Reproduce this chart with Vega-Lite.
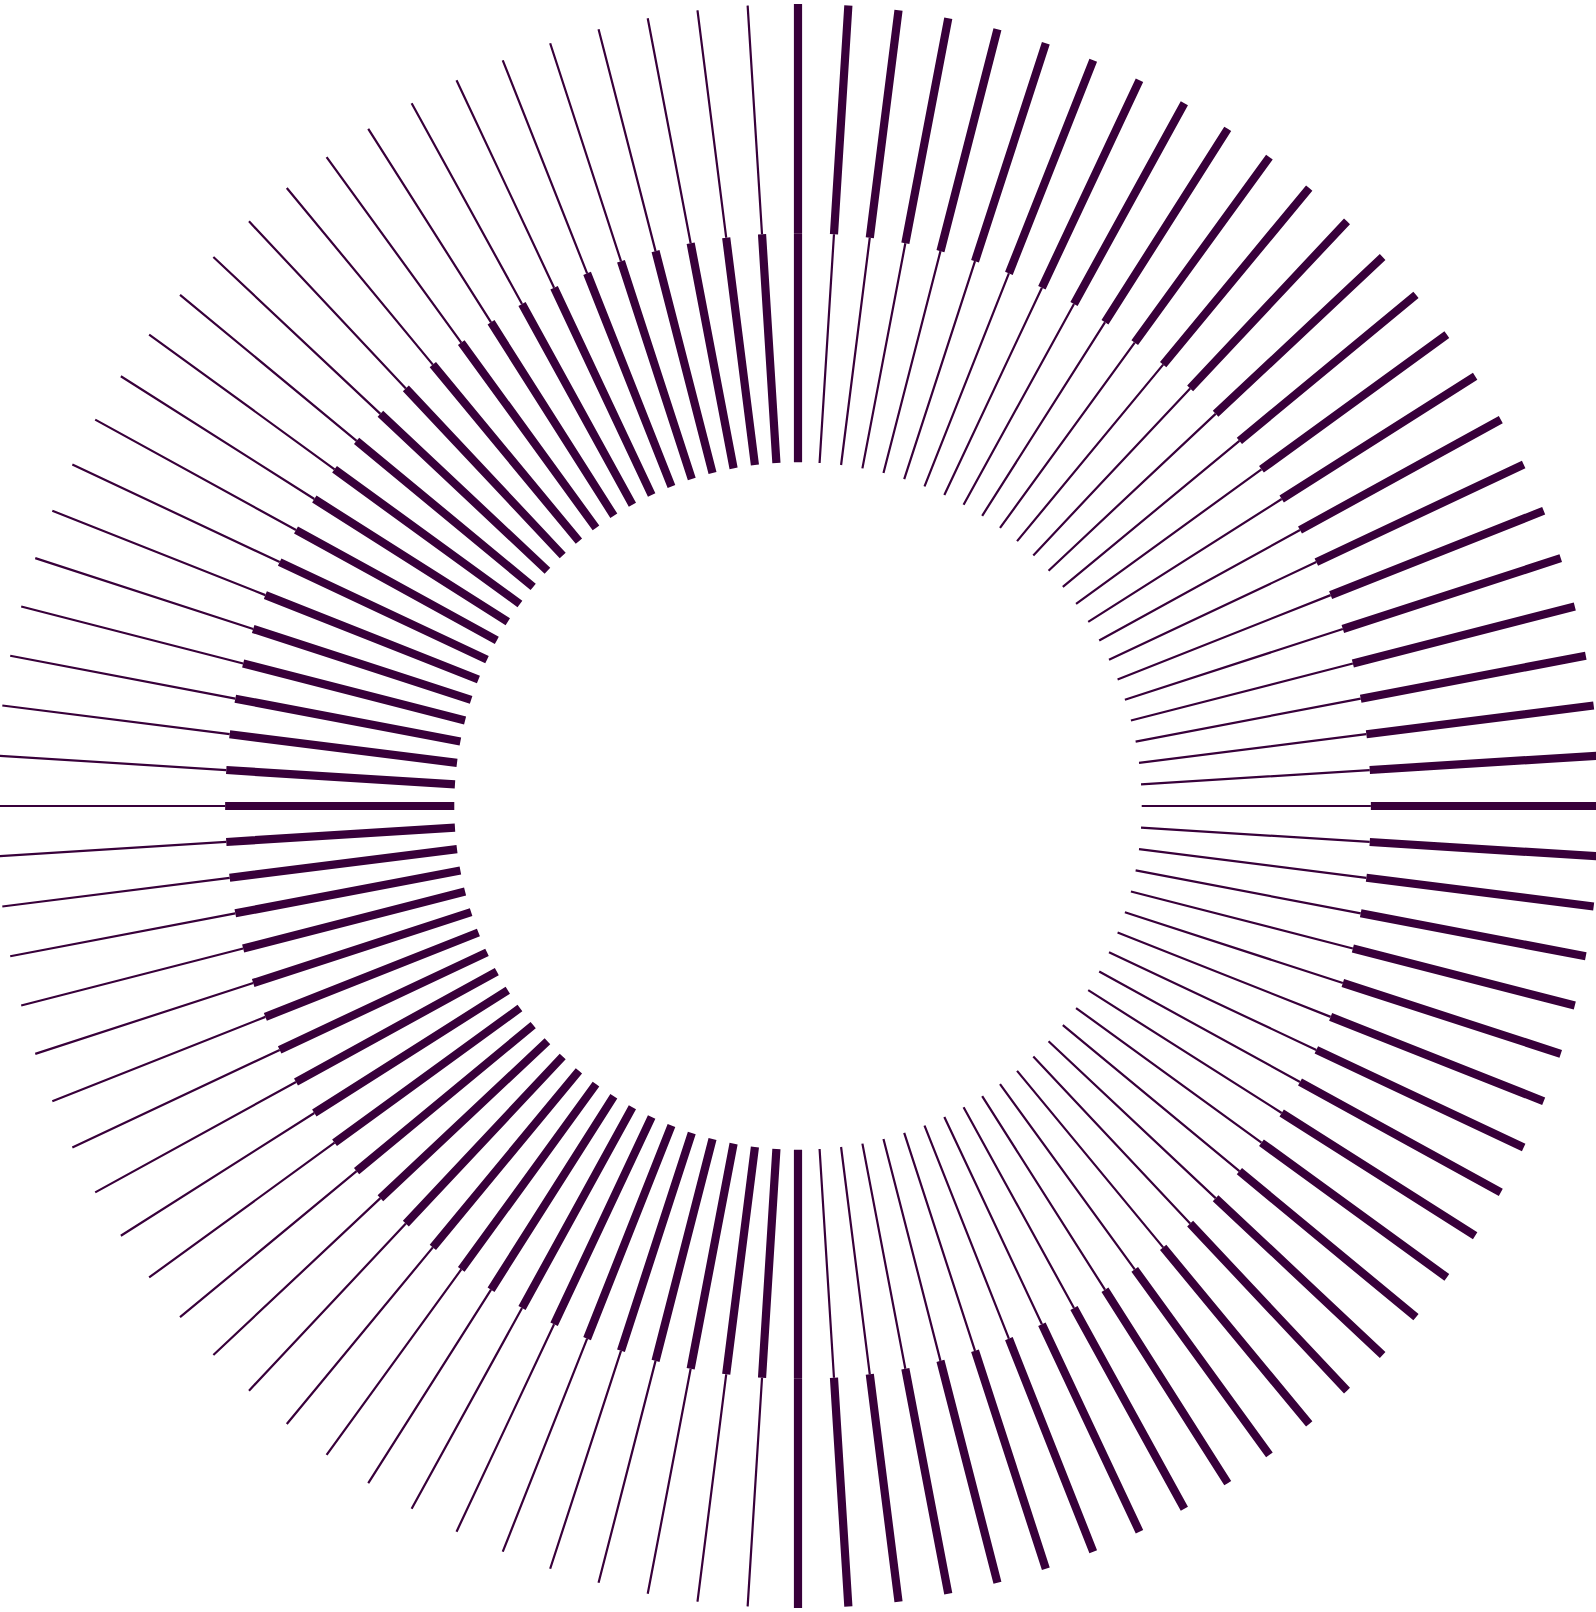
{
  "$schema": "https://vega.github.io/schema/vega-lite/v6.json",
  "width": 1596,
  "height": 1612,
  "autosize": {"type": "none"},
  "padding": 0,
  "background": "white",
  "config": {"view": {"stroke": null}},
  "datasets": {
    "rays": [
      {"i":0,"r0":3,"r1":5,"w":"heavy"},{"i":1,"r0":3,"r1":5,"w":"light"},{"i":2,"r0":3,"r1":5,"w":"light"},{"i":3,"r0":3,"r1":5,"w":"light"},{"i":4,"r0":3,"r1":5,"w":"light"},{"i":5,"r0":3,"r1":5,"w":"light"},{"i":6,"r0":3,"r1":5,"w":"light"},{"i":7,"r0":3,"r1":5,"w":"light"},{"i":8,"r0":3,"r1":5,"w":"light"},{"i":9,"r0":3,"r1":5,"w":"light"},
      {"i":10,"r0":3,"r1":5,"w":"light"},{"i":11,"r0":3,"r1":5,"w":"light"},{"i":12,"r0":3,"r1":5,"w":"light"},{"i":13,"r0":3,"r1":5,"w":"light"},{"i":14,"r0":3,"r1":5,"w":"light"},{"i":15,"r0":3,"r1":5,"w":"light"},{"i":16,"r0":3,"r1":5,"w":"light"},{"i":17,"r0":3,"r1":5,"w":"light"},{"i":18,"r0":3,"r1":5,"w":"light"},{"i":19,"r0":3,"r1":5,"w":"light"},
      {"i":20,"r0":3,"r1":5,"w":"light"},{"i":21,"r0":3,"r1":5,"w":"light"},{"i":22,"r0":3,"r1":5,"w":"light"},{"i":23,"r0":3,"r1":5,"w":"light"},{"i":24,"r0":3,"r1":5,"w":"light"},{"i":25,"r0":3,"r1":5,"w":"light"},{"i":26,"r0":3,"r1":5,"w":"light"},{"i":27,"r0":3,"r1":5,"w":"light"},{"i":28,"r0":3,"r1":5,"w":"light"},{"i":29,"r0":3,"r1":5,"w":"light"},
      {"i":30,"r0":3,"r1":5,"w":"light"},{"i":31,"r0":3,"r1":5,"w":"light"},{"i":32,"r0":3,"r1":5,"w":"light"},{"i":33,"r0":3,"r1":5,"w":"light"},{"i":34,"r0":3,"r1":5,"w":"light"},{"i":35,"r0":3,"r1":5,"w":"light"},{"i":36,"r0":3,"r1":5,"w":"light"},{"i":37,"r0":3,"r1":5,"w":"light"},{"i":38,"r0":3,"r1":5,"w":"light"},{"i":39,"r0":3,"r1":5,"w":"light"},
      {"i":40,"r0":3,"r1":5,"w":"light"},{"i":41,"r0":3,"r1":5,"w":"light"},{"i":42,"r0":3,"r1":5,"w":"light"},{"i":43,"r0":3,"r1":5,"w":"light"},{"i":44,"r0":3,"r1":5,"w":"light"},{"i":45,"r0":3,"r1":5,"w":"light"},{"i":46,"r0":3,"r1":5,"w":"light"},{"i":47,"r0":3,"r1":5,"w":"light"},{"i":48,"r0":3,"r1":5,"w":"light"},{"i":49,"r0":3,"r1":5,"w":"light"},
      {"i":50,"r0":3,"r1":5,"w":"heavy"},{"i":51,"r0":3,"r1":5,"w":"heavy"},{"i":52,"r0":3,"r1":5,"w":"heavy"},{"i":53,"r0":3,"r1":5,"w":"heavy"},{"i":54,"r0":3,"r1":5,"w":"heavy"},{"i":55,"r0":3,"r1":5,"w":"heavy"},{"i":56,"r0":3,"r1":5,"w":"heavy"},{"i":57,"r0":3,"r1":5,"w":"heavy"},{"i":58,"r0":3,"r1":5,"w":"heavy"},{"i":59,"r0":3,"r1":5,"w":"heavy"},
      {"i":60,"r0":3,"r1":5,"w":"heavy"},{"i":61,"r0":3,"r1":5,"w":"heavy"},{"i":62,"r0":3,"r1":5,"w":"heavy"},{"i":63,"r0":3,"r1":5,"w":"heavy"},{"i":64,"r0":3,"r1":5,"w":"heavy"},{"i":65,"r0":3,"r1":5,"w":"heavy"},{"i":66,"r0":3,"r1":5,"w":"heavy"},{"i":67,"r0":3,"r1":5,"w":"heavy"},{"i":68,"r0":3,"r1":5,"w":"heavy"},{"i":69,"r0":3,"r1":5,"w":"heavy"},
      {"i":70,"r0":3,"r1":5,"w":"heavy"},{"i":71,"r0":3,"r1":5,"w":"heavy"},{"i":72,"r0":3,"r1":5,"w":"heavy"},{"i":73,"r0":3,"r1":5,"w":"heavy"},{"i":74,"r0":3,"r1":5,"w":"heavy"},{"i":75,"r0":3,"r1":5,"w":"heavy"},{"i":76,"r0":3,"r1":5,"w":"heavy"},{"i":77,"r0":3,"r1":5,"w":"heavy"},{"i":78,"r0":3,"r1":5,"w":"heavy"},{"i":79,"r0":3,"r1":5,"w":"heavy"},
      {"i":80,"r0":3,"r1":5,"w":"heavy"},{"i":81,"r0":3,"r1":5,"w":"heavy"},{"i":82,"r0":3,"r1":5,"w":"heavy"},{"i":83,"r0":3,"r1":5,"w":"heavy"},{"i":84,"r0":3,"r1":5,"w":"heavy"},{"i":85,"r0":3,"r1":5,"w":"heavy"},{"i":86,"r0":3,"r1":5,"w":"heavy"},{"i":87,"r0":3,"r1":5,"w":"heavy"},{"i":88,"r0":3,"r1":5,"w":"heavy"},{"i":89,"r0":3,"r1":5,"w":"heavy"},
      {"i":90,"r0":3,"r1":5,"w":"heavy"},{"i":91,"r0":3,"r1":5,"w":"heavy"},{"i":92,"r0":3,"r1":5,"w":"heavy"},{"i":93,"r0":3,"r1":5,"w":"heavy"},{"i":94,"r0":3,"r1":5,"w":"heavy"},{"i":95,"r0":3,"r1":5,"w":"heavy"},{"i":96,"r0":3,"r1":5,"w":"heavy"},{"i":97,"r0":3,"r1":5,"w":"heavy"},{"i":98,"r0":3,"r1":5,"w":"heavy"},{"i":99,"r0":3,"r1":5,"w":"heavy"},
      {"i":0,"r0":5,"r1":7,"w":"heavy"},{"i":1,"r0":5,"r1":7,"w":"heavy"},{"i":2,"r0":5,"r1":7,"w":"heavy"},{"i":3,"r0":5,"r1":7,"w":"heavy"},{"i":4,"r0":5,"r1":7,"w":"heavy"},{"i":5,"r0":5,"r1":7,"w":"heavy"},{"i":6,"r0":5,"r1":7,"w":"heavy"},{"i":7,"r0":5,"r1":7,"w":"heavy"},{"i":8,"r0":5,"r1":7,"w":"heavy"},{"i":9,"r0":5,"r1":7,"w":"heavy"},
      {"i":10,"r0":5,"r1":7,"w":"heavy"},{"i":11,"r0":5,"r1":7,"w":"heavy"},{"i":12,"r0":5,"r1":7,"w":"heavy"},{"i":13,"r0":5,"r1":7,"w":"heavy"},{"i":14,"r0":5,"r1":7,"w":"heavy"},{"i":15,"r0":5,"r1":7,"w":"heavy"},{"i":16,"r0":5,"r1":7,"w":"heavy"},{"i":17,"r0":5,"r1":7,"w":"heavy"},{"i":18,"r0":5,"r1":7,"w":"heavy"},{"i":19,"r0":5,"r1":7,"w":"heavy"},
      {"i":20,"r0":5,"r1":7,"w":"heavy"},{"i":21,"r0":5,"r1":7,"w":"heavy"},{"i":22,"r0":5,"r1":7,"w":"heavy"},{"i":23,"r0":5,"r1":7,"w":"heavy"},{"i":24,"r0":5,"r1":7,"w":"heavy"},{"i":25,"r0":5,"r1":7,"w":"heavy"},{"i":26,"r0":5,"r1":7,"w":"heavy"},{"i":27,"r0":5,"r1":7,"w":"heavy"},{"i":28,"r0":5,"r1":7,"w":"heavy"},{"i":29,"r0":5,"r1":7,"w":"heavy"},
      {"i":30,"r0":5,"r1":7,"w":"heavy"},{"i":31,"r0":5,"r1":7,"w":"heavy"},{"i":32,"r0":5,"r1":7,"w":"heavy"},{"i":33,"r0":5,"r1":7,"w":"heavy"},{"i":34,"r0":5,"r1":7,"w":"heavy"},{"i":35,"r0":5,"r1":7,"w":"heavy"},{"i":36,"r0":5,"r1":7,"w":"heavy"},{"i":37,"r0":5,"r1":7,"w":"heavy"},{"i":38,"r0":5,"r1":7,"w":"heavy"},{"i":39,"r0":5,"r1":7,"w":"heavy"},
      {"i":40,"r0":5,"r1":7,"w":"heavy"},{"i":41,"r0":5,"r1":7,"w":"heavy"},{"i":42,"r0":5,"r1":7,"w":"heavy"},{"i":43,"r0":5,"r1":7,"w":"heavy"},{"i":44,"r0":5,"r1":7,"w":"heavy"},{"i":45,"r0":5,"r1":7,"w":"heavy"},{"i":46,"r0":5,"r1":7,"w":"heavy"},{"i":47,"r0":5,"r1":7,"w":"heavy"},{"i":48,"r0":5,"r1":7,"w":"heavy"},{"i":49,"r0":5,"r1":7,"w":"heavy"},
      {"i":50,"r0":5,"r1":7,"w":"heavy"},{"i":51,"r0":5,"r1":7,"w":"light"},{"i":52,"r0":5,"r1":7,"w":"light"},{"i":53,"r0":5,"r1":7,"w":"light"},{"i":54,"r0":5,"r1":7,"w":"light"},{"i":55,"r0":5,"r1":7,"w":"light"},{"i":56,"r0":5,"r1":7,"w":"light"},{"i":57,"r0":5,"r1":7,"w":"light"},{"i":58,"r0":5,"r1":7,"w":"light"},{"i":59,"r0":5,"r1":7,"w":"light"},
      {"i":60,"r0":5,"r1":7,"w":"light"},{"i":61,"r0":5,"r1":7,"w":"light"},{"i":62,"r0":5,"r1":7,"w":"light"},{"i":63,"r0":5,"r1":7,"w":"light"},{"i":64,"r0":5,"r1":7,"w":"light"},{"i":65,"r0":5,"r1":7,"w":"light"},{"i":66,"r0":5,"r1":7,"w":"light"},{"i":67,"r0":5,"r1":7,"w":"light"},{"i":68,"r0":5,"r1":7,"w":"light"},{"i":69,"r0":5,"r1":7,"w":"light"},
      {"i":70,"r0":5,"r1":7,"w":"light"},{"i":71,"r0":5,"r1":7,"w":"light"},{"i":72,"r0":5,"r1":7,"w":"light"},{"i":73,"r0":5,"r1":7,"w":"light"},{"i":74,"r0":5,"r1":7,"w":"light"},{"i":75,"r0":5,"r1":7,"w":"light"},{"i":76,"r0":5,"r1":7,"w":"light"},{"i":77,"r0":5,"r1":7,"w":"light"},{"i":78,"r0":5,"r1":7,"w":"light"},{"i":79,"r0":5,"r1":7,"w":"light"},
      {"i":80,"r0":5,"r1":7,"w":"light"},{"i":81,"r0":5,"r1":7,"w":"light"},{"i":82,"r0":5,"r1":7,"w":"light"},{"i":83,"r0":5,"r1":7,"w":"light"},{"i":84,"r0":5,"r1":7,"w":"light"},{"i":85,"r0":5,"r1":7,"w":"light"},{"i":86,"r0":5,"r1":7,"w":"light"},{"i":87,"r0":5,"r1":7,"w":"light"},{"i":88,"r0":5,"r1":7,"w":"light"},{"i":89,"r0":5,"r1":7,"w":"light"},
      {"i":90,"r0":5,"r1":7,"w":"light"},{"i":91,"r0":5,"r1":7,"w":"light"},{"i":92,"r0":5,"r1":7,"w":"light"},{"i":93,"r0":5,"r1":7,"w":"light"},{"i":94,"r0":5,"r1":7,"w":"light"},{"i":95,"r0":5,"r1":7,"w":"light"},{"i":96,"r0":5,"r1":7,"w":"light"},{"i":97,"r0":5,"r1":7,"w":"light"},{"i":98,"r0":5,"r1":7,"w":"light"},{"i":99,"r0":5,"r1":7,"w":"light"}
    ]
  },
  "data": {"name": "rays"},
  "mark": {"type": "arc", "filled": false, "stroke": "#38003a", "strokeCap": "butt"},
  "encoding": {
    "theta": {"field": "i", "type": "quantitative", "stack": null, "scale": {"domain": [0, 100], "range": [0, 6.283185307179586]}},
    "theta2": {"field": "i"},
    "radius": {"field": "r1", "type": "quantitative", "scale": {"type": "linear", "domain": [0, 7], "range": [0, 802], "zero": true}},
    "radius2": {"field": "r0"},
    "strokeWidth": {"field": "w", "type": "ordinal", "scale": {"domain": ["light", "heavy"], "range": [2.2, 8.2]}, "legend": null}
  }
}
